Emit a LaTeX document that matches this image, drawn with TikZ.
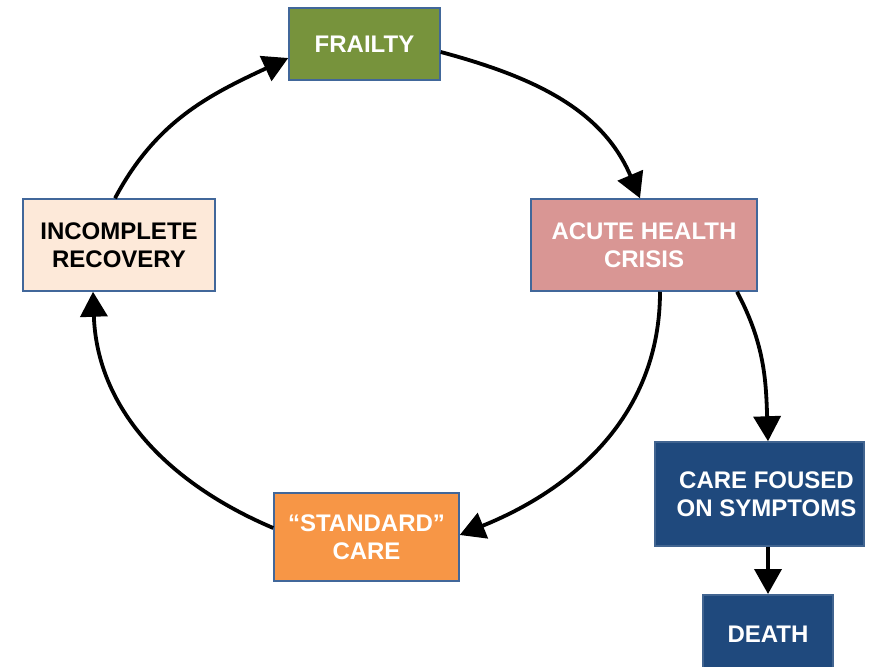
\documentclass[tikz,border=0pt]{standalone}
\usepackage{fontspec}
\setmainfont{Liberation Sans}
\usetikzlibrary{arrows.meta}
\definecolor{bordc}{HTML}{41679A}
\definecolor{frailc}{HTML}{77933C}
\definecolor{acutec}{HTML}{D99694}
\definecolor{incc}{HTML}{FDE9D9}
\definecolor{stdc}{HTML}{F79646}
\definecolor{navyc}{HTML}{1F497D}
\begin{document}
\begin{tikzpicture}[x=1pt,y=1pt,
  box/.style={draw=bordc, line width=1.5pt, align=center,
    font=\fontsize{24}{28.5}\selectfont\bfseries, text=white, inner sep=0pt},
  flow/.style={line width=3.8pt, -{Triangle[length=25pt,width=27pt]}}]
\useasboundingbox (0,0) rectangle (874,-666);
\node[box, fill=frailc, minimum width=151pt, minimum height=72pt] (fr) at (364.5,-44) {FRAILTY};
\node[box, fill=acutec, minimum width=226pt, minimum height=92pt] (ac) at (644,-245) {ACUTE HEALTH\\CRISIS};
\node[box, fill=incc, text=black, minimum width=192pt, minimum height=92pt] (ic) at (119,-245) {INCOMPLETE\\RECOVERY};
\node[box, fill=stdc, minimum width=185pt, minimum height=88pt] (sc) at (366.5,-537) {“STANDARD”\\CARE};
\node[box, fill=navyc, draw=navyc!85!white, minimum width=209pt, minimum height=104pt] (cf) at (759.5,-494) {\hspace*{14pt}CARE FOUSED\\\hspace*{14pt}ON SYMPTOMS};
\node[box, fill=navyc, draw=navyc!85!white, minimum width=130pt, minimum height=84pt, anchor=north] (de) at (768,-594) {\raisebox{6pt}{DEATH}};
\draw[flow] ([xshift=-4pt]ic.north) to[out=62,in=205] ([yshift=-14pt]fr.west);
\draw[flow] ([yshift=-8pt]fr.east) to[out=-15,in=113] ([xshift=-4pt]ac.north);
\draw[flow] ([xshift=16pt]ac.south) to[out=-90,in=22] ([yshift=2pt]sc.east);
\draw[flow] ([yshift=9pt]sc.west) to[out=157,in=-88] ([xshift=-26pt]ic.south);
\draw[flow] ([xshift=93pt]ac.south) to[out=-62,in=92] ([xshift=8.5pt]cf.north);
\draw[flow] ([xshift=8.5pt]cf.south) -- (de.north);
\end{tikzpicture}
\end{document}
